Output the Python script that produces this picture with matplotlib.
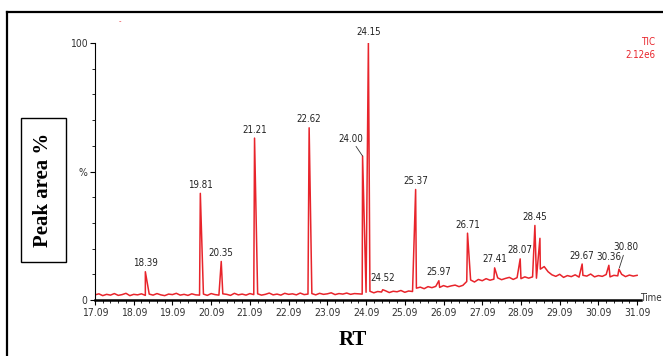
import numpy as np
import matplotlib
matplotlib.use("Agg")
import matplotlib.pyplot as plt
from matplotlib.lines import Line2D
from matplotlib.patches import Rectangle

# baseline of the TIC trace, read every 0.1 min from 17.09 to 31.09 (%)
base_a = [2.0, 2.4, 1.7, 2.2, 1.9, 2.5, 1.8, 2.1, 2.6, 1.7, 2.2, 2.0, 2.4, 1.8, 2.3, 1.9, 2.5, 2.0, 1.7, 2.3,
          2.1, 2.6, 1.9, 2.2, 1.8, 2.4, 2.0, 1.9, 2.3, 1.8, 2.5, 2.1, 1.9, 2.4, 2.2, 1.8, 2.6, 2.0, 2.3, 1.9,
          2.5, 2.1, 2.4, 1.9, 2.2, 2.7, 2.0, 2.3, 1.9, 2.6, 2.2, 2.4, 2.0, 2.7, 2.1, 2.3, 2.5, 2.0, 2.6, 2.2,
          2.4, 2.8, 2.1, 2.5, 2.3, 2.7, 2.2, 2.5, 2.4, 2.3]
base_b = [3.0, 3.4, 2.8, 3.3, 3.1, 3.6, 2.9, 3.4, 3.2, 3.7, 3.0, 3.5, 3.3]
base_c = [4.6, 5.0, 4.4, 5.2, 4.8, 5.3, 4.9, 5.6, 5.1, 5.5, 5.8, 5.2, 5.7]
base_d = [7.2, 7.8, 7.0, 8.0, 7.5, 8.3, 7.7, 8.1, 8.6, 7.9, 8.4, 8.8, 8.0, 8.7, 8.3, 9.0, 8.5]
base_e = [9.0, 8.5, 12.0, 13.0, 11.0, 9.8, 9.2, 10.0, 8.8, 9.5, 9.1, 9.8, 8.9, 9.6, 9.3, 10.1, 9.0, 9.5,
          9.2, 9.9, 9.0, 9.6, 9.4, 10.0, 9.1, 9.7, 9.3, 9.6]
baseline = base_a + base_b + base_c + base_d + base_e

# peaks: retention time, height (%), label
peak_rt = [18.39, 19.81, 20.35, 21.21, 22.62, 24.00, 24.15, 24.52, 25.37, 25.97,
           26.71, 27.41, 28.07, 28.45, 28.58, 29.67, 30.36, 30.62]
peak_h = [11, 41.5, 15, 63, 67, 56, 100, 4, 43, 7.5,
          26, 12.5, 16, 29, 24, 14, 13.5, 12]
peak_lbl = ["18.39", "19.81", "20.35", "21.21", "22.62", "24.00", "24.15", "24.52", "25.37", "25.97",
            "26.71", "27.41", "28.07", "28.45", "", "29.67", "30.36", "30.80"]

xticks = [17.09 + k for k in range(15)]

rt_grid = 17.09 + 0.1 * np.arange(len(baseline))
rt_all = np.concatenate([rt_grid, peak_rt])
y_all = np.concatenate([baseline, peak_h])
order = np.argsort(rt_all)

W, H = 663, 356
fig = plt.figure(figsize=(W / 100, H / 100), dpi=100)
narrow = dict(family="DejaVu Sans", stretch="condensed")
serif = ["Liberation Serif", "DejaVu Serif"]
red = "#e8242b"

ax = fig.add_axes([95 / W, 56 / H, 546 / W, 257 / H])
ax.plot(rt_all[order], y_all[order], color=red, lw=1.1)
ax.set_xlim(17.09, 31.19)
ax.set_ylim(0, 100)

ax.spines["top"].set_visible(False)
ax.spines["right"].set_visible(False)
ax.spines["bottom"].set_linewidth(1.8)
ax.spines["left"].set_linewidth(0.8)

ax.set_xticks(xticks)
ax.set_xticklabels(["%.2f" % t for t in xticks], fontsize=7.5, color="#333333", **narrow)
ax.set_xticks(np.arange(17.09, 31.1, 0.2), minor=True)
ax.set_yticks([0, 50, 100])
ax.set_yticklabels(["0", "%", "100"], fontsize=7.5, color="#333333", **narrow)
ax.set_yticks(np.arange(0, 101, 10), minor=True)
ax.tick_params(which="major", direction="out", length=3.5, width=0.8, pad=2)
ax.tick_params(which="minor", direction="out", length=2, width=0.6)

for rt, h, lbl in zip(peak_rt, peak_h, peak_lbl):
    if not lbl:
        continue
    if lbl == "24.00":
        ax.annotate(lbl, (rt, h), xytext=(-8.5, 9), textcoords="offset points",
                    ha="center", va="bottom", fontsize=7, color="#222222", **narrow,
                    arrowprops=dict(arrowstyle="-", lw=0.6, color="#333333", shrinkA=0, shrinkB=0))
    elif lbl == "30.80":
        ax.annotate(lbl, (rt, h), xytext=(5, 12), textcoords="offset points",
                    ha="center", va="bottom", fontsize=7, color="#222222", **narrow,
                    arrowprops=dict(arrowstyle="-", lw=0.6, color="#333333", shrinkA=0, shrinkB=1))
    else:
        dy = 4.5 if lbl in ("24.15", "24.52") else 2.5
        ax.annotate(lbl, (rt, h), xytext=(0, dy), textcoords="offset points",
                    ha="center", va="bottom", fontsize=7, color="#222222", **narrow,
                    annotation_clip=False)

fig.text(640 / W, 1 - 298 / H, "Time", fontsize=7, color="#333333", va="center", **narrow)
fig.text(655 / W, 1 - 42 / H, "TIC", fontsize=7, color=red, ha="right", va="center", **narrow)
fig.text(655 / W, 1 - 55 / H, "2.12e6", fontsize=7, color=red, ha="right", va="center", **narrow)
fig.text(120 / W, 1 - 21 / H, "-", fontsize=5, color=red, ha="center", va="center")

# outer frame (cut at right and bottom) and y-label box
fig.add_artist(Line2D([7 / W, 1.0], [1 - 12 / H, 1 - 12 / H], color="black", lw=1.6))
fig.add_artist(Line2D([7 / W, 7 / W], [0, 1 - 12 / H], color="black", lw=1.6))
fig.add_artist(Rectangle((21 / W, 1 - 262 / H), 45 / W, 144 / H, fill=False,
                         edgecolor="black", lw=1.0, transform=fig.transFigure))
fig.text(43.5 / W, 1 - 190 / H, "Peak area %", rotation=90, family=serif, fontweight="bold",
         fontsize=15, ha="center", va="center")
fig.text(353 / W, 1 - 340 / H, "RT", family=serif, fontweight="bold", fontsize=15,
         ha="center", va="center")

fig.savefig("out.png", dpi=100)
